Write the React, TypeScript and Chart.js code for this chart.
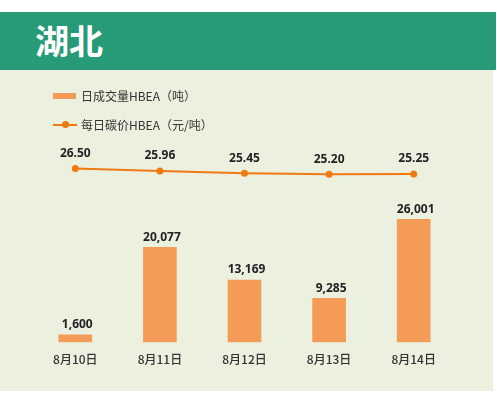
import React, { useEffect, useRef } from "react";
import { Chart, registerables } from "chart.js";

Chart.register(...registerables);

const title = "湖北";
const categories = ["8月10日", "8月11日", "8月12日", "8月13日", "8月14日"];
const volumeLabel = "日成交量HBEA（吨）";
const priceLabel = "每日碳价HBEA（元/吨）";
const volume = [1600, 20077, 13169, 9285, 26001];
const price = [26.5, 25.96, 25.45, 25.2, 25.25];

const GREEN = "#279A78";
const PANEL = "#EBF0DF";
const BAR = "#F49B58";
const LINE = "#F07A12";
const TEXT = "#333333";
const CJK = '"Noto Sans CJK SC", "Noto Sans", sans-serif';

const valueLabels = {
  id: "valueLabels",
  afterDatasetsDraw(chart: any) {
    const ctx = chart.ctx;
    ctx.save();
    ctx.font = 'bold 12px "Noto Sans", sans-serif';
    ctx.fillStyle = "#222222";
    ctx.textAlign = "center";
    ctx.textBaseline = "middle";
    chart.data.datasets.forEach((ds: any, i: number) => {
      const meta = chart.getDatasetMeta(i);
      meta.data.forEach((el: any, j: number) => {
        const v = ds.data[j] as number;
        if (ds.type === "bar") {
          ctx.fillText(v.toLocaleString("en-US"), el.x + 2, el.y - 10);
        } else {
          ctx.fillText(v.toFixed(2), el.x, el.y - 15);
        }
      });
    });
    ctx.restore();
  },
};

export default function App() {
  const ref = useRef<HTMLCanvasElement | null>(null);

  useEffect(() => {
    if (!ref.current) return;
    const chart = new Chart(ref.current, {
      type: "bar",
      data: {
        labels: categories,
        datasets: [
          {
            type: "line",
            label: priceLabel,
            data: price,
            yAxisID: "yPrice",
            borderColor: LINE,
            backgroundColor: LINE,
            borderWidth: 2,
            pointRadius: 3.5,
            pointBackgroundColor: LINE,
            pointBorderWidth: 0,
            tension: 0,
          } as any,
          {
            type: "bar",
            label: volumeLabel,
            data: volume,
            yAxisID: "yVol",
            backgroundColor: BAR,
            barThickness: 33,
          } as any,
        ],
      },
      options: {
        animation: false,
        responsive: false,
        maintainAspectRatio: false,
        layout: { padding: { top: 70, left: 33, right: 37, bottom: 15.3 } },
        plugins: {
          legend: { display: false },
          tooltip: { enabled: false },
        },
        scales: {
          x: {
            grid: { display: false, drawTicks: false },
            border: { display: false },
            ticks: {
              color: TEXT,
              padding: 10,
              font: { family: CJK, size: 12, weight: "500" },
            },
          },
          yVol: {
            display: false,
            min: 0,
            max: 42742,
          },
          yPrice: {
            display: false,
            min: -13.05,
            max: 33.0,
          },
        },
      },
      plugins: [valueLabels],
    });
    return () => chart.destroy();
  }, []);

  return (
    <div
      style={{
        position: "absolute",
        left: 0,
        top: 0,
        width: 497,
        height: 394,
        background: "#ffffff",
        overflow: "hidden",
        fontFamily: CJK,
      }}
    >
      <div
        style={{
          position: "absolute",
          left: 0,
          top: 12,
          width: 496,
          height: 58,
          background: GREEN,
        }}
      >
        <div
          style={{
            position: "absolute",
            left: 35,
            top: 0,
            height: 58,
            lineHeight: "56px",
            color: "#ffffff",
            fontWeight: 700,
            fontSize: 34,
            fontFamily: CJK,
          }}
        >
          {title}
        </div>
      </div>
      <div
        style={{
          position: "absolute",
          left: 0,
          top: 70,
          width: 493,
          height: 321,
          background: PANEL,
        }}
      >
        <canvas
          ref={ref}
          width={493}
          height={322}
          style={{ position: "absolute", left: 0, top: 0, width: 493, height: 322 }}
        />
        <div style={{ position: "absolute", left: 53, top: 23, width: 23, height: 6, background: BAR }} />
        <div
          style={{
            position: "absolute",
            left: 81,
            top: 17,
            height: 18,
            lineHeight: "18px",
            fontSize: 12,
            color: TEXT,
            whiteSpace: "nowrap",
          }}
        >
          {volumeLabel}
        </div>
        <div style={{ position: "absolute", left: 53, top: 53.5, width: 24, height: 2, background: LINE }} />
        <div
          style={{
            position: "absolute",
            left: 61.5,
            top: 51,
            width: 7,
            height: 7,
            borderRadius: "50%",
            background: LINE,
          }}
        />
        <div
          style={{
            position: "absolute",
            left: 81,
            top: 45.5,
            height: 18,
            lineHeight: "18px",
            fontSize: 12,
            color: TEXT,
            whiteSpace: "nowrap",
          }}
        >
          {priceLabel}
        </div>
      </div>
    </div>
  );
}
